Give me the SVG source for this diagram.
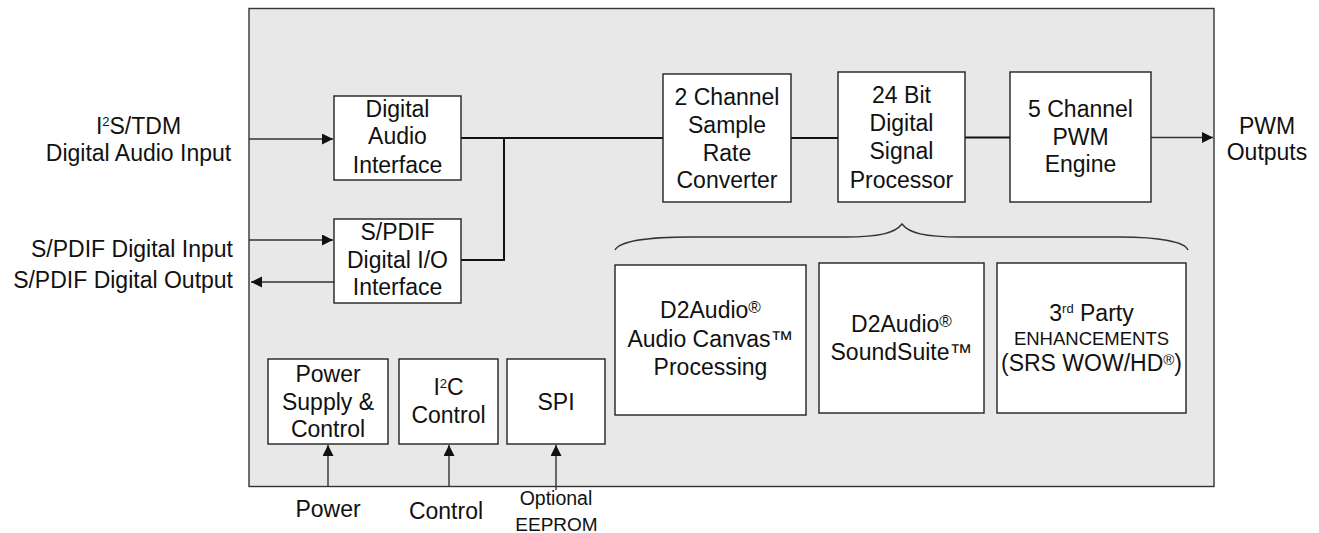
<svg xmlns="http://www.w3.org/2000/svg" width="1319" height="533" viewBox="0 0 1319 533">
<style>
  text { font-family: "Liberation Sans", Arial, sans-serif; font-size: 23px; fill: #111; }
  .m { text-anchor: middle; }
  .e { text-anchor: end; }
  .box { fill: #fff; stroke: #222; stroke-width: 1.4; }
  .chip { fill: #e8e8e8; stroke: #333; stroke-width: 1.4; }
  .flow { fill: none; stroke: #111; stroke-width: 2; }
  .sig { fill: none; stroke: #333; stroke-width: 1.4; }
  .sup { font-size: 13px; }
  .reg { font-size: 17px; }
</style>
<defs>
  <marker id="ah" markerUnits="userSpaceOnUse" markerWidth="12" markerHeight="12" refX="11" refY="5.5" orient="auto">
    <path d="M0,0 L11,5.5 L0,11 z" fill="#111"/>
  </marker>
</defs>

<rect id="chip" class="chip" x="249" y="8.5" width="965" height="478"/>

<g id="connectors">
  <line class="sig" x1="249" y1="139" x2="333" y2="139" marker-end="url(#ah)"/>
  <line class="sig" x1="249" y1="240" x2="333" y2="240" marker-end="url(#ah)"/>
  <line class="sig" x1="334" y1="282" x2="251" y2="282" marker-end="url(#ah)"/>
  <polyline class="flow" points="461,138 663,138"/>
  <polyline class="flow" points="504,138 504,260 461,260"/>
  <line class="flow" x1="791" y1="138" x2="838" y2="138"/>
  <line class="flow" x1="965" y1="137.5" x2="1010" y2="137.5"/>
  <line class="sig" x1="1151" y1="137.5" x2="1213" y2="137.5" marker-end="url(#ah)"/>
  <line class="sig" x1="328" y1="487" x2="328" y2="445" marker-end="url(#ah)"/>
  <line class="sig" x1="449" y1="487" x2="449" y2="445" marker-end="url(#ah)"/>
  <line class="sig" x1="556" y1="490" x2="556" y2="445" marker-end="url(#ah)"/>
  <path class="sig" d="M615,250 C620,241 650,237 690,237 L845,237 C880,237 895,233 902,224 C909,233 924,237 960,237 L1120,237 C1160,237 1185,242 1188,250"/>
</g>

<g id="labels">
  <text class="m" x="138.5" y="133.5">I<tspan class="sup" dy="-7.5">2</tspan><tspan dy="7.5">S/TDM</tspan></text>
  <text class="m" x="138.5" y="161">Digital Audio Input</text>
  <text class="e" x="233" y="256.5">S/PDIF Digital Input</text>
  <text class="e" x="233" y="288">S/PDIF Digital Output</text>
  <text class="m" x="1267" y="134">PWM</text>
  <text class="m" x="1267" y="160">Outputs</text>
  <text class="m" x="328" y="516.5">Power</text>
  <text class="m" x="446" y="519">Control</text>
  <text class="m" x="556" y="505" style="font-size:19.5px">Optional</text>
  <text class="m" x="556.5" y="530.5" style="font-size:19px">EEPROM</text>
</g>

<g id="dai">
  <rect class="box" x="334" y="96" width="127" height="84"/>
  <text class="m" x="397.5" y="116.7">Digital</text>
  <text class="m" x="397.5" y="144.3">Audio</text>
  <text class="m" x="397.5" y="172.5">Interface</text>
</g>
<g id="spdif">
  <rect class="box" x="334" y="219" width="127" height="84"/>
  <text class="m" x="397.5" y="240">S/PDIF</text>
  <text class="m" x="397.5" y="267.7">Digital I/O</text>
  <text class="m" x="397.5" y="295.3">Interface</text>
</g>
<g id="src">
  <rect class="box" x="663" y="74" width="128" height="128"/>
  <text class="m" x="727" y="105">2 Channel</text>
  <text class="m" x="727" y="133">Sample</text>
  <text class="m" x="727" y="160.5">Rate</text>
  <text class="m" x="727" y="188.3">Converter</text>
</g>
<g id="dsp">
  <rect class="box" x="838" y="72" width="127" height="130"/>
  <text class="m" x="901.5" y="102.7">24 Bit</text>
  <text class="m" x="901.5" y="131">Digital</text>
  <text class="m" x="901.5" y="159.3">Signal</text>
  <text class="m" x="901.5" y="187.7">Processor</text>
</g>
<g id="pwm">
  <rect class="box" x="1010" y="72" width="141" height="130"/>
  <text class="m" x="1080.5" y="117.3">5 Channel</text>
  <text class="m" x="1080.5" y="144.5">PWM</text>
  <text class="m" x="1080.5" y="172">Engine</text>
</g>
<g id="canvas">
  <rect class="box" x="615" y="265" width="191" height="150"/>
  <text class="m" x="710.5" y="317.7">D2Audio<tspan class="reg" dy="-5">®</tspan></text>
  <text class="m" x="710.5" y="346.5">Audio Canvas™</text>
  <text class="m" x="710.5" y="375">Processing</text>
</g>
<g id="soundsuite">
  <rect class="box" x="819" y="263" width="165" height="150"/>
  <text class="m" x="901.5" y="331.7">D2Audio<tspan class="reg" dy="-5">®</tspan></text>
  <text class="m" x="901.5" y="360">SoundSuite™</text>
</g>
<g id="thirdparty">
  <rect class="box" x="997" y="263" width="189" height="150"/>
  <text class="m" x="1091.5" y="320.7">3<tspan style="font-size:13px" dy="-8">rd</tspan><tspan dy="8"> Party</tspan></text>
  <text class="m" x="1091.5" y="345" style="font-size:18.5px">ENHANCEMENTS</text>
  <text class="m" x="1091.5" y="370.7">(SRS WOW/HD<tspan style="font-size:15px" dy="-6">®</tspan><tspan dy="6">)</tspan></text>
</g>
<g id="power">
  <rect class="box" x="268" y="359" width="120" height="85"/>
  <text class="m" x="328" y="381.7">Power</text>
  <text class="m" x="328" y="409.5">Supply &amp;</text>
  <text class="m" x="328" y="437.3">Control</text>
</g>
<g id="i2c">
  <rect class="box" x="399" y="359" width="99" height="85"/>
  <text class="m" x="448.5" y="395">I<tspan class="sup" dy="-7.5">2</tspan><tspan dy="7.5">C</tspan></text>
  <text class="m" x="448.5" y="423.3">Control</text>
</g>
<g id="spi">
  <rect class="box" x="507" y="359" width="98" height="85"/>
  <text class="m" x="556" y="410">SPI</text>
</g>
</svg>
